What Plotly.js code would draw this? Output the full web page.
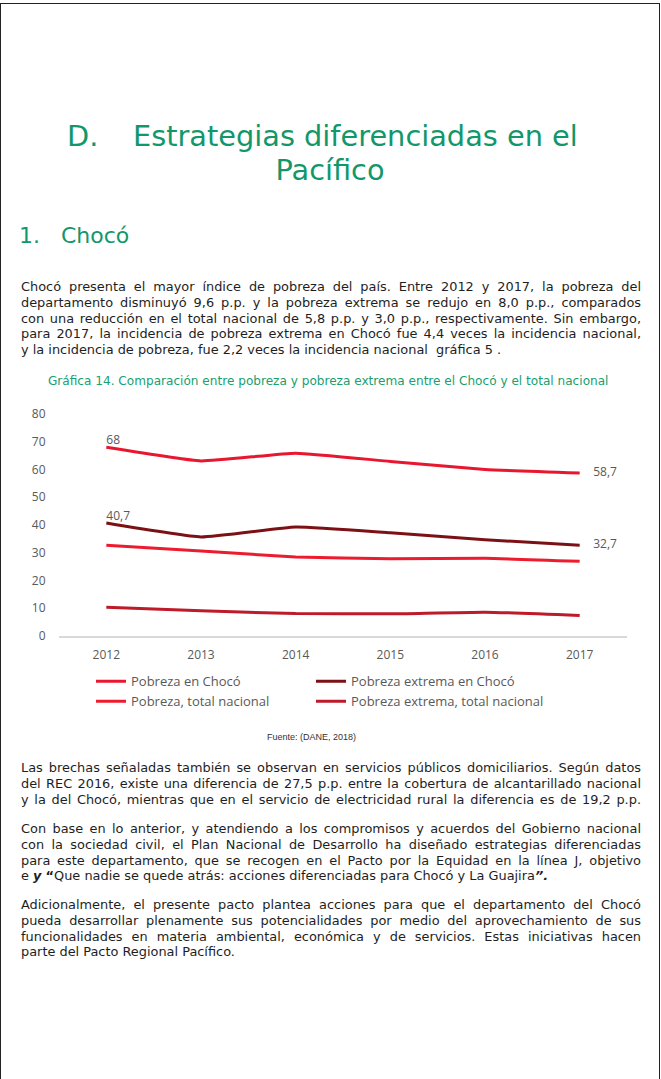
<!DOCTYPE html>
<html><head><meta charset="utf-8">
<script src="https://cdn.plot.ly/plotly-3.0.1.min.js"></script>
<style>
html,body{margin:0;padding:0;background:#fff;overflow:hidden;width:661px;height:1079px;}
#page{position:absolute;left:0;top:3px;width:660px;height:1100px;border:1px solid #222;box-sizing:border-box;}
.t{position:absolute;font-family:"DejaVu Sans",sans-serif;color:#222;white-space:nowrap;}
.green{color:#12976a;}
.p{position:absolute;left:21px;width:620px;font-family:"DejaVu Sans",sans-serif;font-size:12.9px;line-height:15.8px;color:#1e1e1e;}
.p div{white-space:nowrap;text-align:justify;text-align-last:justify;}
.p div.last{text-align-last:left;}
#chart{position:absolute;left:0;top:395px;width:661px;height:335px;}
</style></head>
<body>
<div id="page"></div>
<div class="t green" style="left:67px;top:120px;font-size:28.8px;line-height:32px;">D.</div>
<div class="t green" style="left:133px;top:120px;font-size:28.8px;line-height:32px;">Estrategias diferenciadas en el</div>
<div class="t green" style="left:0;width:660px;text-align:center;top:154px;font-size:28.8px;line-height:32px;">Pacífico</div>
<div class="t green" style="left:19px;top:222px;font-size:22px;line-height:28px;">1.</div>
<div class="t green" style="left:61px;top:222px;font-size:22px;line-height:28px;">Chocó</div>

<div class="p" style="top:279px;">
<div>Chocó presenta el mayor índice de pobreza del país. Entre 2012 y 2017, la pobreza del</div>
<div>departamento disminuyó 9,6 p.p. y la pobreza extrema se redujo en 8,0 p.p., comparados</div>
<div>con una reducción en el total nacional de 5,8 p.p. y 3,0 p.p., respectivamente. Sin embargo,</div>
<div>para 2017, la incidencia de pobreza extrema en Chocó fue 4,4 veces la incidencia nacional,</div>
<div class="last">y la incidencia de pobreza, fue 2,2 veces la incidencia nacional &nbsp;gráfica 5 .</div>
</div>

<div class="t" style="left:48px;top:373px;font-size:12.1px;line-height:16px;color:#17a06f;">Gráfica 14. Comparación entre pobreza y pobreza extrema entre el Chocó y el total nacional</div>

<div id="chart"></div>

<div class="t" style="left:267px;top:731px;font-size:9px;line-height:12px;color:#333;font-family:'Liberation Sans',Arial,sans-serif;">Fuente: (DANE, 2018)</div>

<div class="p" style="top:760px;">
<div>Las brechas señaladas también se observan en servicios públicos domiciliarios. Según datos</div>
<div>del REC 2016, existe una diferencia de 27,5 p.p. entre la cobertura de alcantarillado nacional</div>
<div>y la del Chocó, mientras que en el servicio de electricidad rural la diferencia es de 19,2 p.p.</div>
</div>
<div class="p" style="top:821px;">
<div>Con base en lo anterior, y atendiendo a los compromisos y acuerdos del Gobierno nacional</div>
<div>con la sociedad civil, el Plan Nacional de Desarrollo ha diseñado estrategias diferenciadas</div>
<div>para este departamento, que se recogen en el Pacto por la Equidad en la línea J, objetivo</div>
<div class="last">e <b><i>y</i></b> <b>“</b>Que nadie se quede atrás: acciones diferenciadas para Chocó y La Guajira<b><i>”.</i></b></div>
</div>
<div class="p" style="top:897px;">
<div>Adicionalmente, el presente pacto plantea acciones para que el departamento del Chocó</div>
<div>pueda desarrollar plenamente sus potencialidades por medio del aprovechamiento de sus</div>
<div>funcionalidades en materia ambiental, económica y de servicios. Estas iniciativas hacen</div>
<div class="last">parte del Pacto Regional Pacífico.</div>
</div>

<script>
// Data
const years = ['2012','2013','2014','2015','2016','2017'];
const pobrezaChoco = [68, 63.1, 65.9, 62.9, 60.0, 58.7];
const extremaChoco = [40.7, 35.7, 39.3, 37.2, 34.7, 32.7];
const pobrezaNacional = [32.7, 30.6, 28.5, 27.8, 28.0, 26.9];
const extremaNacional = [10.4, 9.1, 8.1, 8.0, 8.6, 7.4];
const seriesNames = ['Pobreza en Chocó','Pobreza extrema en Chocó','Pobreza, total nacional','Pobreza extrema, total nacional'];
const seriesColors = ['#e8172f','#7b1115','#ec1c2e','#bd1a2a'];
const legendOf = ['legend','legend2','legend','legend2'];
const yTicks = [0,10,20,30,40,50,60,70,80];

const allSeries = [pobrezaChoco, extremaChoco, pobrezaNacional, extremaNacional];
const traces = allSeries.map((vals, i) => ({
  type: 'scatter', mode: 'lines', x: years, y: vals, name: seriesNames[i], legend: legendOf[i],
  line: {color: seriesColors[i], width: 3, shape: 'spline', smoothing: 0.4},
  hoverinfo: 'skip'
}));

const fmt = v => String(v).replace('.', ',');
const mkFont = (s) => ({family: 'Open Sans, sans-serif', size: s, color: '#595959'});

// data labels: first and last value of the two Chocó series
[pobrezaChoco, extremaChoco].forEach(vals => {
  const n = vals.length - 1;
  traces.push({
    type: 'scatter', mode: 'text', x: [years[0]], y: [vals[0]],
    text: [fmt(vals[0])], textposition: 'top right',
    textfont: mkFont(12), showlegend: false, hoverinfo: 'skip', cliponaxis: false
  });
  traces.push({
    type: 'scatter', mode: 'markers+text', x: [years[n]], y: [vals[n]],
    text: [fmt(vals[n])], textposition: 'middle right',
    marker: {size: 20, color: 'rgba(0,0,0,0)'},
    textfont: mkFont(12), showlegend: false, hoverinfo: 'skip', cliponaxis: false
  });
});

const legendBase = {orientation: 'v', xref: 'container', yref: 'container', y: 0.19, xanchor: 'left', yanchor: 'top',
  itemwidth: 30, font: mkFont(13), bgcolor: 'rgba(0,0,0,0)', traceorder: 'normal'};

const layout = {
  width: 661, height: 335,
  margin: {l: 59, r: 34, t: 19, b: 94, autoexpand: false},
  paper_bgcolor: 'rgba(0,0,0,0)', plot_bgcolor: 'rgba(0,0,0,0)',
  font: mkFont(12),
  xaxis: {type: 'category', range: [-0.5, 5.5], showgrid: false, zeroline: false,
    showline: true, linecolor: '#d9d9d9', linewidth: 2,
    ticks: 'outside', ticklen: 7, tickcolor: 'rgba(0,0,0,0)', tickfont: mkFont(12), fixedrange: true},
  yaxis: {range: [0, 80], tickvals: yTicks, ticktext: yTicks.map(String), showgrid: false, zeroline: false,
    showline: false, ticks: 'outside', ticklen: 10, tickcolor: 'rgba(0,0,0,0)', tickfont: mkFont(12), fixedrange: true},
  showlegend: true,
  legend: Object.assign({}, legendBase, {x: 0.1377}),
  legend2: Object.assign({}, legendBase, {x: 0.4705})
};
Plotly.newPlot('chart', traces, layout, {displayModeBar: false, staticPlot: true});
</script>
</body></html>
